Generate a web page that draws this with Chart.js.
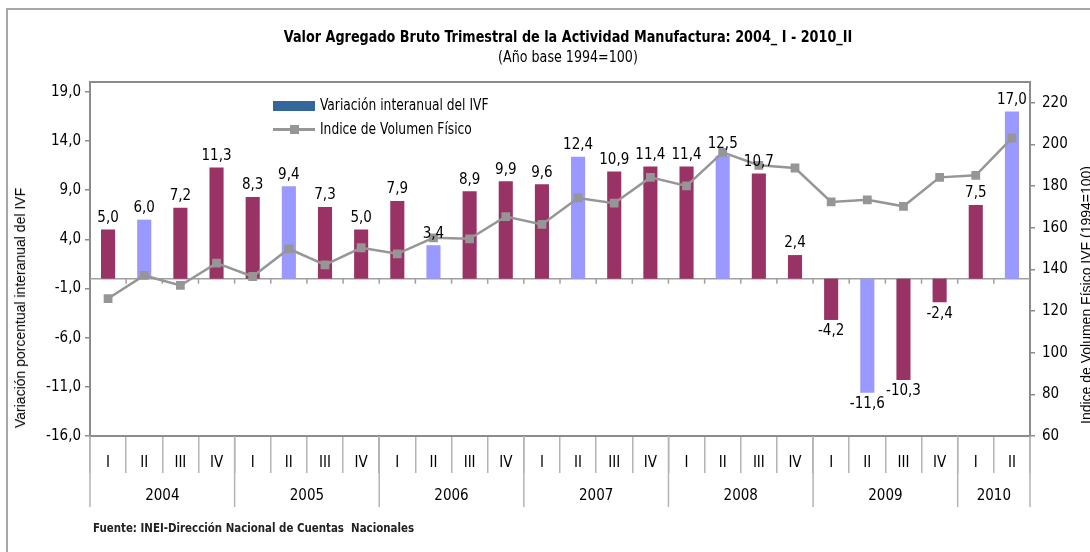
<!DOCTYPE html>
<html>
<head>
<meta charset="utf-8">
<script src="https://cdn.jsdelivr.net/npm/chart.js@4.4.1/dist/chart.umd.min.js"></script>
<style>
  body { margin: 0; background: #fff; }
  #wrap { position: relative; width: 1090px; height: 552px; overflow: hidden; font-family: 'Liberation Sans Narrow', 'Arial Narrow', 'DejaVu Sans Condensed', sans-serif; color: #000; }
  #frame { position: absolute; left: 6px; top: 8px; width: 1100px; height: 560px; border: 2px solid #a6a6a6; box-sizing: border-box; }
  canvas { position: absolute; left: 0; top: 0; }
  .txt { position: absolute; white-space: nowrap; }
  #title { left: 0; width: 1136px; top: 27px; text-align: center; font-size: 16px; font-weight: bold; transform: scaleX(0.89); }
  #subtitle { left: 0; width: 1136px; top: 48px; text-align: center; font-size: 15px; transform: scaleX(0.94); }
  #footer { left: 93px; top: 521px; font-size: 12px; font-weight: bold; color: #222; transform: scaleX(0.95); transform-origin: left center; }
  .vt { font-family: 'Liberation Sans', Arial, sans-serif; font-size: 14px; transform: translate(-50%, -50%) rotate(-90deg); }
  .leg { position: absolute; font-size: 15px; }
  .legtxt { transform: scaleX(0.91); transform-origin: left center; }
</style>
</head>
<body>
<div id="wrap">
  <div id="frame"></div>
  <canvas id="chart" width="1090" height="552"></canvas>
  <div class="txt" id="title">Valor Agregado Bruto Trimestral de la Actividad Manufactura: 2004_ I - 2010_II</div>
  <div class="txt" id="subtitle">(Año base 1994=100)</div>
  <div class="txt vt" style="left:20px; top:308px;">Variación porcentual interanual del IVF</div>
  <div class="txt vt" style="left:1086px; top:295px;">Indice de Volumen Físico IVF (1994=100)</div>
  <div class="txt" id="footer">Fuente: INEI-Dirección Nacional de Cuentas&nbsp; Nacionales</div>
  <div class="leg" style="left:273px; top:101px; width:42px; height:10px; background:#336699;"></div>
  <div class="leg txt legtxt" style="left:320px; top:96px;">Variación interanual del IVF</div>
  <div class="leg" style="left:273px; top:128px; width:42px; height:3px; background:#969696;"></div>
  <div class="leg" style="left:290px; top:125px; width:9px; height:9px; background:#969696;"></div>
  <div class="leg txt legtxt" style="left:320px; top:120px;">Indice de Volumen Físico</div>
</div>
<script>
// --- DATOS ---
const trimestres = ['I','II','III','IV','I','II','III','IV','I','II','III','IV','I','II','III','IV',
                    'I','II','III','IV','I','II','III','IV','I','II'];
const anios = ['2004','2005','2006','2007','2008','2009','2010'];
const trimestresPorAnio = [4, 4, 4, 4, 4, 4, 2];
const variacion = [5.0, 6.0, 7.2, 11.3, 8.3, 9.4, 7.3, 5.0, 7.9, 3.4, 8.9, 9.9, 9.6, 12.4,
                   10.9, 11.4, 11.4, 12.5, 10.7, 2.4, -4.2, -11.6, -10.3, -2.4, 7.5, 17.0];
const ivf = [126.0, 137.1, 132.3, 143.0, 136.6, 149.9, 142.2, 150.4, 147.5, 155.2, 154.7, 165.4, 161.6,
             174.3, 171.8, 184.2, 180.1, 196.2, 190.0, 188.7, 172.4, 173.4, 170.3, 184.2, 185.2, 203.1];
const ticksIzq = [-16, -11, -6, -1, 4, 9, 14, 19];
const ticksDer = [60, 80, 100, 120, 140, 160, 180, 200, 220];

const NARROW = "'Liberation Sans Narrow', 'Arial Narrow', 'DejaVu Sans Condensed', sans-serif";
const GRIS = '#969696';
const EJE = '#8c8c8c';

const fmt = v => v.toFixed(1).replace('.', ',');

// Marco, línea del cero, años y etiquetas de datos
const extras = {
  id: 'extras',
  beforeDatasetsDraw(chart) {
    const { ctx, chartArea } = chart;
    const x = chart.scales.x, y = chart.scales.y;
    const y0 = y.getPixelForValue(0);
    const paso = x.getPixelForValue(1) - x.getPixelForValue(0);
    ctx.save();
    ctx.strokeStyle = '#a0a0a0';
    ctx.lineWidth = 1.5;
    ctx.beginPath();
    ctx.moveTo(chartArea.left, y0);
    ctx.lineTo(chartArea.right, y0);
    for (let i = 1; i < trimestres.length; i++) {
      const px = x.getPixelForValue(i) - paso / 2;
      ctx.moveTo(px, y0);
      ctx.lineTo(px, y0 + 5);
    }
    ctx.stroke();
    ctx.restore();
  },
  afterDatasetsDraw(chart) {
    const { ctx, chartArea } = chart;
    const x = chart.scales.x;
    const paso = x.getPixelForValue(1) - x.getPixelForValue(0);
    ctx.save();
    // borde superior del área
    ctx.strokeStyle = EJE;
    ctx.lineWidth = 2;
    ctx.beginPath();
    ctx.moveTo(chartArea.left, chartArea.top);
    ctx.lineTo(chartArea.right, chartArea.top);
    ctx.stroke();

    // separadores y nombres de años
    ctx.strokeStyle = '#b4b4b4';
    ctx.lineWidth = 1.5;
    ctx.fillStyle = '#000';
    ctx.font = '15px ' + NARROW;
    ctx.textAlign = 'center';
    ctx.textBaseline = 'middle';
    let idx = 0;
    anios.forEach((a, k) => {
      const n = trimestresPorAnio[k];
      const x1 = x.getPixelForValue(idx) - paso / 2;
      const x2 = x.getPixelForValue(idx + n - 1) + paso / 2;
      ctx.beginPath();
      ctx.moveTo(x1, chartArea.bottom);
      ctx.lineTo(x1, chartArea.bottom + 71);
      if (k === anios.length - 1) {
        ctx.moveTo(x2, chartArea.bottom);
        ctx.lineTo(x2, chartArea.bottom + 71);
      }
      ctx.stroke();
      ctx.fillText(a, (x1 + x2) / 2, chartArea.bottom + 60);
      idx += n;
    });

    // etiquetas de las barras
    const meta = chart.getDatasetMeta(0);
    meta.data.forEach((bar, i) => {
      const v = variacion[i];
      if (v >= 0) {
        ctx.textBaseline = 'bottom';
        ctx.fillText(fmt(v), bar.x, bar.y - 4);
      } else {
        ctx.textBaseline = 'top';
        ctx.fillText(fmt(v), bar.x, bar.y + 4);
      }
    });
    ctx.restore();
  }
};

new Chart(document.getElementById('chart'), {
  type: 'bar',
  data: {
    labels: trimestres,
    datasets: [{
      type: 'bar',
      label: 'Variación interanual del IVF',
      data: variacion,
      backgroundColor: trimestres.map(t => t === 'II' ? '#9999ff' : '#993366'),
      barPercentage: 0.39,
      categoryPercentage: 1,
      yAxisID: 'y',
      order: 1
    }, {
      type: 'line',
      label: 'Indice de Volumen Físico',
      data: ivf,
      borderColor: GRIS,
      backgroundColor: GRIS,
      borderWidth: 2.5,
      pointStyle: 'rect',
      pointRadius: 6.2,
      pointBorderWidth: 0,
      tension: 0,
      yAxisID: 'y1',
      order: 0
    }]
  },
  options: {
    responsive: false,
    animation: false,
    layout: { padding: { top: 82, left: 10, right: 0, bottom: 0 } },
    plugins: { legend: { display: false }, tooltip: { enabled: false } },
    scales: {
      x: {
        offset: true,
        grid: { offset: true, drawOnChartArea: false, drawTicks: true, tickLength: 37, color: '#b4b4b4', lineWidth: 1.5 },
        border: { display: true, color: EJE, width: 2 },
        ticks: { color: '#000', font: { family: NARROW, size: 15 }, padding: -19, maxRotation: 0, autoSkip: false },
        afterFit: s => { s.height = 116; }
      },
      y: {
        position: 'left',
        min: -16, max: 20,
        afterBuildTicks: s => { s.ticks = ticksIzq.map(v => ({ value: v })); },
        grid: { drawOnChartArea: false, drawTicks: true, tickLength: 5, color: EJE, lineWidth: 1.5 },
        border: { display: true, color: EJE, width: 2 },
        ticks: { color: '#000', font: { family: NARROW, size: 15 }, padding: 4, callback: v => fmt(v) },
        afterFit: s => { s.width = 80; }
      },
      y1: {
        position: 'right',
        min: 60, max: 230,
        afterBuildTicks: s => { s.ticks = ticksDer.map(v => ({ value: v })); },
        grid: { drawOnChartArea: false, drawTicks: true, tickLength: 5, color: EJE, lineWidth: 1.5 },
        border: { display: true, color: EJE, width: 2 },
        ticks: { color: '#000', font: { family: NARROW, size: 15 }, padding: 7 },
        afterFit: s => { s.width = 60; }
      }
    }
  },
  plugins: [extras]
});
</script>
</body>
</html>
